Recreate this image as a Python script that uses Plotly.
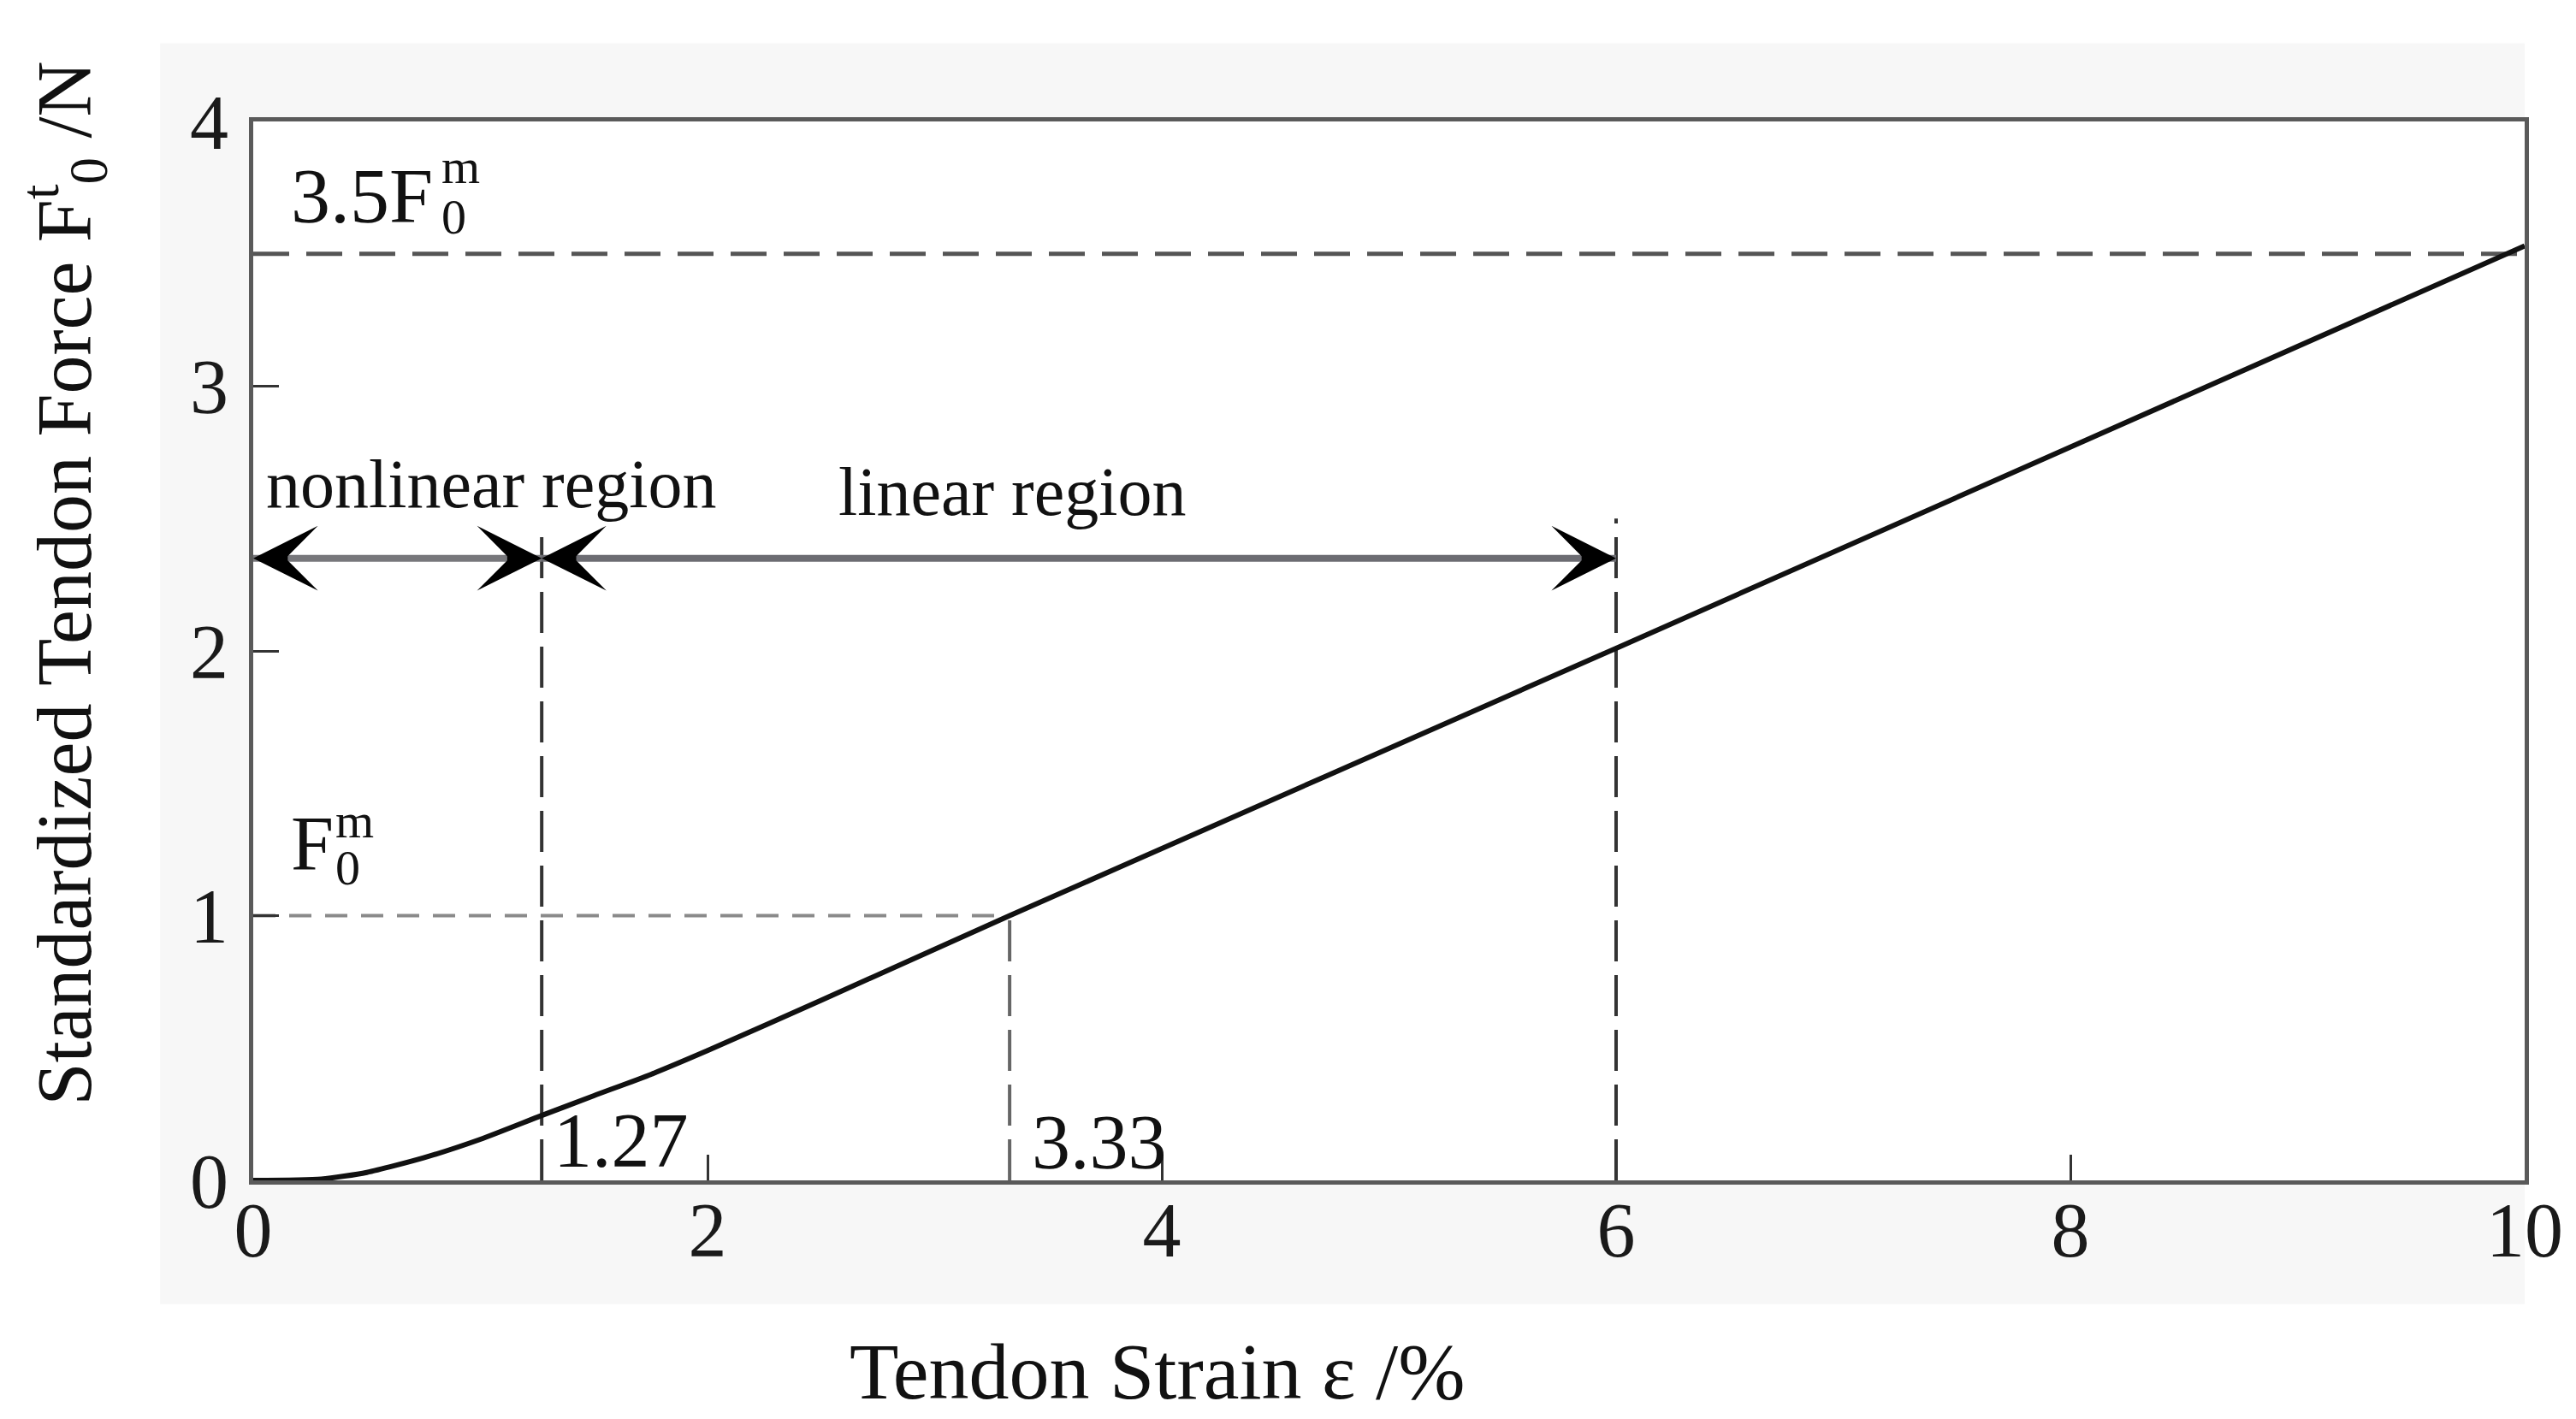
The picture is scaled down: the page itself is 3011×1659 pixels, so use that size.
import plotly.graph_objects as go

# tendon force-strain curve
strain = [0.0, 0.3, 0.5, 0.75, 1.0, 1.27, 1.5, 1.75, 2.0, 2.5, 3.33, 6.0, 10.0]
force = [0.0, 0.005, 0.03, 0.085, 0.155, 0.245, 0.32, 0.40, 0.49, 0.68, 1.0, 2.01, 3.53]

x_ticks = [0, 2, 4, 6, 8, 10]
y_ticks = [0, 1, 2, 3, 4]

# marker values
nonlinear_end = 1.27
f0_strain = 3.33
linear_end = 6.0
f0 = 1.0
f_max = 3.5
region_arrow_y = 2.35

SERIF = "Liberation Serif"

fig = go.Figure()

# faint scan-like backdrop around the plot, plot area itself stays white
fig.add_shape(type="rect", xref="paper", yref="paper",
              x0=-0.041, x1=1.0, y0=-0.117, y1=1.074,
              fillcolor="#f7f7f7", line_width=0, layer="below")
fig.add_shape(type="rect", xref="paper", yref="paper",
              x0=0, x1=1, y0=0, y1=1,
              fillcolor="white", line_width=0, layer="below")

# reference lines
fig.add_trace(go.Scatter(x=[0, 10], y=[f_max, f_max], mode="lines",
                         line=dict(color="#555", width=5, dash="42px,20px")))
fig.add_trace(go.Scatter(x=[0, f0_strain], y=[f0, f0], mode="lines",
                         line=dict(color="#8a8a8a", width=4, dash="26px,16px")))
fig.add_trace(go.Scatter(x=[f0_strain, f0_strain], y=[0, f0], mode="lines",
                         line=dict(color="#666", width=4, dash="48px,16px")))
fig.add_trace(go.Scatter(x=[nonlinear_end, nonlinear_end], y=[0, 2.44], mode="lines",
                         line=dict(color="#333", width=4, dash="48px,16px")))
fig.add_trace(go.Scatter(x=[linear_end, linear_end], y=[0, 2.50], mode="lines",
                         line=dict(color="#333", width=4, dash="48px,16px")))

# region arrow shafts
fig.add_trace(go.Scatter(x=[0, nonlinear_end], y=[region_arrow_y] * 2, mode="lines",
                         line=dict(color="#77777b", width=8)))
fig.add_trace(go.Scatter(x=[nonlinear_end, linear_end], y=[region_arrow_y] * 2, mode="lines",
                         line=dict(color="#6c6c72", width=8)))

# main curve
fig.add_trace(go.Scatter(x=strain, y=force, mode="lines",
                         line=dict(color="#111", width=6, shape="spline", smoothing=0.6)))

annotations = []
# arrow heads (short black arrows, shaft hidden under the head)
for tip, tail in [(0, 30), (nonlinear_end, -30), (nonlinear_end, 30), (linear_end, -30)]:
    annotations.append(dict(x=tip, y=region_arrow_y, xref="x", yref="y", text="",
                            showarrow=True, ax=tail, ay=0, arrowhead=3,
                            arrowwidth=6, arrowsize=2.1, arrowcolor="#000"))


def label(x, y, text, size, anchor="left"):
    annotations.append(dict(x=x, y=y, xref="x", yref="y", text=text, showarrow=False,
                            xanchor=anchor, yanchor="middle",
                            font=dict(family=SERIF, size=size, color="#111")))


label(0.05, 2.63, "nonlinear region", 80)
label(2.57, 2.60, "linear region", 80)
label(1.315, 0.15, "1.27", 90)
label(3.42, 0.145, "3.33", 90)
# 3.5 F0^m with stacked sub/superscript
label(0.16, 3.72, "3.5F", 92)
label(0.82, 3.83, "m", 58)
label(0.82, 3.64, "0", 58)
# F0^m
label(0.16, 1.27, "F", 90)
label(0.355, 1.36, "m", 58)
label(0.355, 1.18, "0", 58)

# axis titles
annotations.append(dict(x=0.398, y=-0.18, xref="paper", yref="paper", showarrow=False,
                        text="Tendon Strain ε /%", xanchor="center", yanchor="middle",
                        font=dict(family=SERIF, size=94, color="#111")))
annotations.append(dict(x=-0.083, y=0.564, xref="paper", yref="paper", showarrow=False,
                        text="Standardized Tendon Force F<sup>t</sup><sub>0</sub> /N",
                        textangle=-90, xanchor="center", yanchor="middle",
                        font=dict(family=SERIF, size=90, color="#111")))

axis_common = dict(
    showline=True, mirror=True, linecolor="#5a5a5a", linewidth=5,
    ticks="inside", ticklen=30, tickwidth=3, tickcolor="#333",
    showgrid=False, zeroline=False,
    tickfont=dict(family=SERIF, size=90, color="#1a1a1a"),
)

fig.update_layout(
    width=3011, height=1659,
    margin=dict(l=288, r=68, t=134, b=287),
    paper_bgcolor="white", plot_bgcolor="white",
    showlegend=False,
    annotations=annotations,
    xaxis=dict(range=[0, 10], tickvals=x_ticks, ticklabelstandoff=-24, **axis_common),
    yaxis=dict(range=[0, 4], tickvals=y_ticks, ticklabelstandoff=6, **axis_common),
)

fig.write_html("out.html")
